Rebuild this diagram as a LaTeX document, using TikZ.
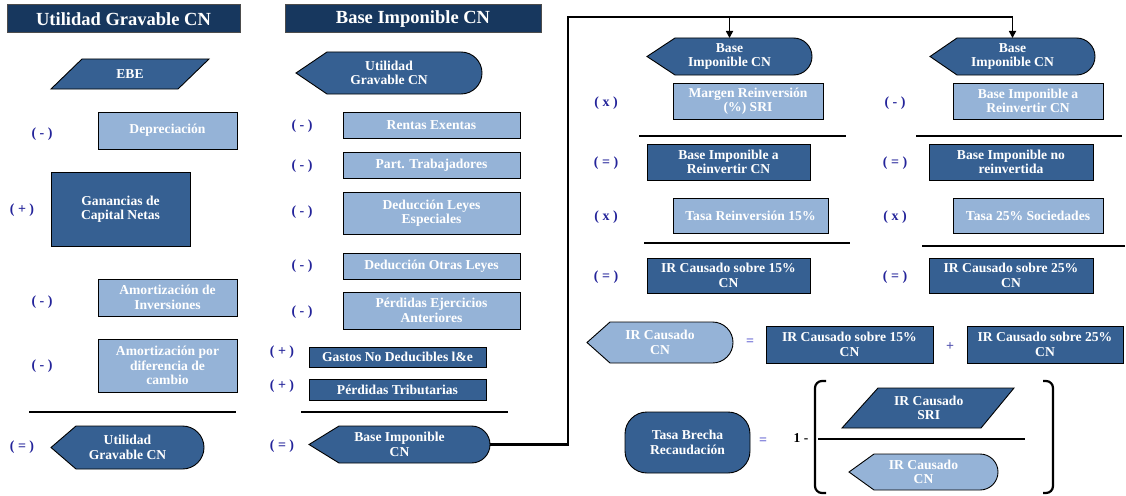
\documentclass[tikz,border=0pt]{standalone}
\usepackage{fontspec}
\setmainfont{Liberation Serif}
\usetikzlibrary{arrows.meta}
\definecolor{navy}{HTML}{17375E}
\definecolor{midblue}{HTML}{366092}
\definecolor{lightblue}{HTML}{95B3D7}
\definecolor{lblblue}{HTML}{24249A}
\definecolor{opblue}{HTML}{6464D2}
\tikzset{
 txt/.style={text=white, font=\fontsize{13.6}{14.4}\selectfont\bfseries, align=center, inner sep=0pt},
 box/.style={draw=black, line width=0.9pt, txt},
 shp/.style={draw=black, line width=0.9pt},
 hdr/.style={draw=black!70, line width=1pt, fill=navy, text=white, font=\fontsize{18.5}{20}\selectfont\bfseries, inner sep=0pt},
 lbl/.style={text=lblblue, font=\fontsize{14}{14}\selectfont\bfseries, inner sep=0pt},
 op/.style={text=opblue, font=\fontsize{14}{14}\selectfont\bfseries, inner sep=0pt},
 rulel/.style={line width=1.3pt},
 conn/.style={line width=2.4pt},
 arr/.style={line width=1.6pt, -{Triangle[length=7pt,width=7pt]}},
}
\newcommand\rbox[7]{%
 \pgfmathsetmacro\bw{#4-#2}\pgfmathsetmacro\bh{#5-#3}%
 \node[box,fill=#6,minimum width=\bw pt,minimum height=\bh pt] (#1) at ({(#2+#4)/2},{(#3+#5)/2}) {#7};}
\newcommand\disp[8]{%
 \pgfmathsetmacro\dr{(#6-#4)/2}%
 \pgfmathsetmacro\dc{(#4+#6)/2}%
 \draw[shp, fill=#7] (#2,\dc) -- (#3,#4) -- ({#5-\dr},#4) arc[start angle=-90, end angle=90, x radius=\dr, y radius=\dr] -- (#3,#6) -- cycle;
 \node[txt] (#1) at ({(#2+#5)/2},\dc) {#8};
 \coordinate (#1-n) at ({(#2+#5)/2},#4);
 \coordinate (#1-e) at (#5,\dc);}
\newcommand\para[8]{%
 \draw[shp,fill=midblue] (#2,#6) -- (#3,#6) -- (#5,#7) -- (#4,#7) -- cycle;
 \node[txt] (#1) at ({(#2+#3+#4+#5)/4},{(#6+#7)/2}) {#8};}
\begin{document}
\begin{tikzpicture}[x=1pt,y=-1pt]
\useasboundingbox (0,0) rectangle (1126,495);
% headers
\node[hdr,minimum width=233pt,minimum height=28pt] (h1) at (123.5,19) {Utilidad Gravable CN};
\node[hdr,minimum width=256pt,minimum height=28pt] (h2) at (413,19) {Base Imponible CN};
% left column
\para{ebe}{82}{209}{51}{178}{59}{89}{EBE}
\rbox{dep}{98}{112}{237}{149}{lightblue}{Depreciación}
\rbox{gan}{51}{172}{190}{246}{midblue}{Ganancias de\\Capital Netas}
\rbox{ami}{98}{279}{237}{316}{lightblue}{Amortización de\\Inversiones}
\rbox{amd}{98}{339}{237}{392}{lightblue}{Amortización por\\diferencia de\\cambio}
\draw[rulel] (29,412) -- (236,412);
\disp{ug1}{51}{76}{426}{204}{469}{midblue}{Utilidad\\Gravable CN}
\node[lbl] (l1) at (42,134) {( - )};
\node[lbl] (l2) at (22,210) {( + )};
\node[lbl] (l3) at (42,302) {( - )};
\node[lbl] (l4) at (42,366) {( - )};
\node[lbl] (l5) at (22,447) {( = )};
% middle column
\disp{ug2}{296}{327}{52}{482}{94}{midblue}{Utilidad\\Gravable CN}
\rbox{ren}{343}{112}{520}{138}{lightblue}{Rentas Exentas}
\rbox{par}{343}{152}{520}{178}{lightblue}{Part. Trabajadores}
\rbox{dle}{343}{192}{520}{234}{lightblue}{Deducción Leyes\\Especiales}
\rbox{dol}{343}{253}{520}{279}{lightblue}{Deducción Otras Leyes}
\rbox{pea}{343}{292}{520}{329}{lightblue}{Pérdidas Ejercicios\\Anteriores}
\rbox{gnd}{309}{347}{486}{367}{midblue}{Gastos No Deducibles l\&e}
\rbox{ptr}{309}{379}{486}{400}{midblue}{Pérdidas Tributarias}
\draw[rulel] (301,412) -- (508,412);
\disp{bic}{309}{339}{426}{490}{463}{midblue}{Base Imponible\\CN}
\node[lbl] (m1) at (302,126) {( - )};
\node[lbl] (m2) at (302,166) {( - )};
\node[lbl] (m3) at (302,212) {( - )};
\node[lbl] (m4) at (302,266) {( - )};
\node[lbl] (m5) at (302,312) {( - )};
\node[lbl] (m6) at (282,352) {( + )};
\node[lbl] (m7) at (282,386) {( + )};
\node[lbl] (m8) at (282,446) {( = )};
% right block column 1
\disp{b1}{647}{675}{38}{812}{75}{midblue}{Base\\Imponible CN}
\rbox{mr}{673}{83}{823}{119}{lightblue}{Margen Reinversión\\(\%) SRI}
\draw[rulel] (639,136) -- (846,136);
\rbox{bir1}{647}{144}{810}{180}{midblue}{Base Imponible a\\Reinvertir CN}
\rbox{tr}{673}{198}{828}{233}{lightblue}{Tasa Reinversión 15\%}
\draw[rulel] (644,243) -- (850,243);
\rbox{ir15}{647}{258}{810}{293}{midblue}{IR Causado sobre 15\%\\CN}
\node[lbl] (r1) at (606,103) {( x )};
\node[lbl] (r2) at (606,163) {( = )};
\node[lbl] (r3) at (606,217) {( x )};
\node[lbl] (r4) at (606,277) {( = )};
% right block column 2
\disp{b2}{930}{957}{38}{1095}{75}{midblue}{Base\\Imponible CN}
\rbox{bir2}{953}{83}{1103}{119}{lightblue}{Base Imponible a\\Reinvertir CN}
\draw[rulel] (916,136) -- (1122,136);
\rbox{bnr}{929}{144}{1093}{180}{midblue}{Base Imponible no\\reinvertida}
\rbox{t25}{953}{198}{1103}{233}{lightblue}{Tasa 25\% Sociedades}
\draw[rulel] (922,246) -- (1125,246);
\rbox{ir25}{929}{258}{1093}{293}{midblue}{IR Causado sobre 25\%\\CN}
\node[lbl] (s1) at (895,103) {( - )};
\node[lbl] (s2) at (895,163) {( = )};
\node[lbl] (s3) at (895,217) {( x )};
\node[lbl] (s4) at (895,277) {( = )};
% IR causado sum
\disp{irc}{587}{610}{322}{733}{363}{lightblue}{IR Causado\\CN}
\node[op] (eq1) at (750,342) {=};
\rbox{irs15}{766}{326}{933}{363}{midblue}{IR Causado sobre 15\%\\CN}
\node[op,text=lblblue!80] (pl) at (950,347) {+};
\rbox{irs25}{967}{326}{1123}{363}{midblue}{IR Causado sobre 25\%\\CN}
% tasa brecha
\node[box,fill=midblue,rounded corners=22pt,minimum width=125pt,minimum height=61pt] (tbr) at (687.5,442.5) {Tasa Brecha\\Recaudación};
\node[op] (eq2) at (763,441) {=};
\node[font=\fontsize{13.5}{13.5}\selectfont\bfseries, inner sep=0pt] (one) at (801,438) {1 -};
\draw[line width=2.2pt, rounded corners=7pt] (826,381) -- (815,381) -- (815,493) -- (826,493);
\draw[line width=2.2pt, rounded corners=7pt] (1043,381) -- (1053,381) -- (1053,493) -- (1043,493);
\para{sri}{878}{1014}{842}{981}{388}{428}{IR Causado\\SRI}
\draw[rulel] (818,439) -- (1025,439);
\disp{irc2}{849}{874}{454}{998}{490}{lightblue}{IR Causado\\CN}
% connector
\coordinate (c1) at (568,17);
\coordinate (c2) at (1012.5,17);
\draw[conn] (bic-e) -| (c1) -- (c2);
\draw[arr] (c2) -- (b2-n);
\draw[arr] (b1-n |- c1) -- (b1-n);
\end{tikzpicture}
\end{document}
